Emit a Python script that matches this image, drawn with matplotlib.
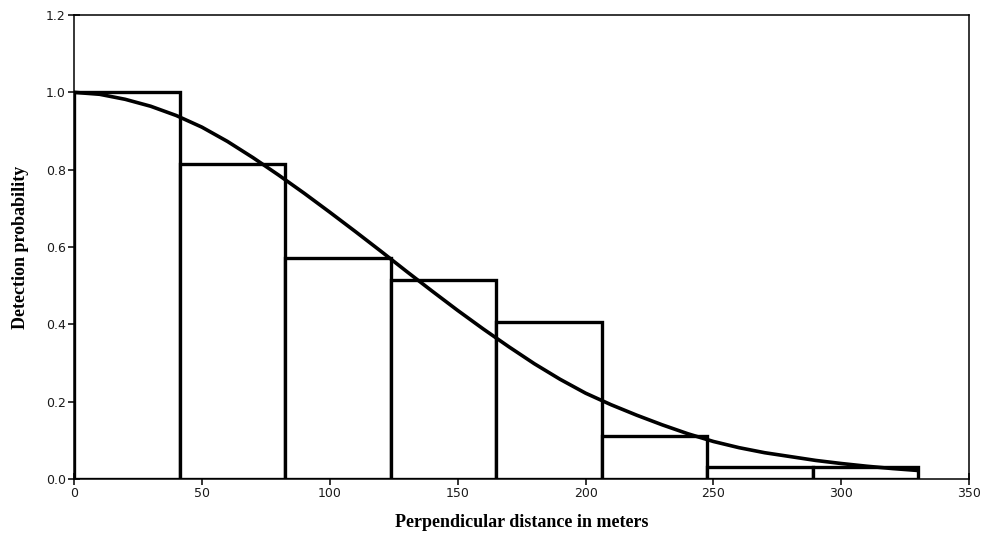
import numpy as np
import matplotlib as mpl
mpl.use('Agg')
import matplotlib.pyplot as plt

mpl.rcParams['axes.linewidth'] = 1.1
mpl.rcParams['xtick.major.width'] = 1.1
mpl.rcParams['ytick.major.width'] = 1.1

# histogram of scaled detection frequencies (8 bins of 41.25 m)
bin_edges = [0, 41.25, 82.5, 123.75, 165, 206.25, 247.5, 288.75, 330]
bar_heights = [1.0, 0.815, 0.571, 0.515, 0.406, 0.111, 0.031, 0.031]

# fitted detection function, every 10 m
curve_x = [0, 10, 20, 30, 40, 50, 60, 70, 80, 90, 100, 110, 120, 130, 140,
           150, 160, 170, 180, 190, 200, 210, 220, 230, 240, 250, 260, 270,
           280, 290, 300, 310, 320, 330]
curve_p = [1.000, 0.995, 0.982, 0.964, 0.940, 0.910, 0.873, 0.831, 0.786,
           0.739, 0.690, 0.640, 0.589, 0.537, 0.486, 0.436, 0.388, 0.342,
           0.298, 0.258, 0.222, 0.192, 0.165, 0.140, 0.117, 0.097, 0.081,
           0.068, 0.058, 0.048, 0.040, 0.033, 0.027, 0.022]

xticks = [0, 50, 100, 150, 200, 250, 300, 350]
yticks = [0.0, 0.2, 0.4, 0.6, 0.8, 1.0, 1.2]

label_font = {'family': 'Liberation Serif', 'weight': 'bold', 'size': 13}

fig = plt.figure(figsize=(9.84, 5.44), dpi=100)
ax = fig.add_axes([0.0752, 0.1195, 0.9098, 0.8529])

edges = np.array(bin_edges)
ax.bar(edges[:-1], bar_heights, width=np.diff(edges), align='edge',
       facecolor='white', edgecolor='black', linewidth=2.4, zorder=2)
ax.plot(curve_x, curve_p, color='black', lw=2.6, zorder=3,
        solid_capstyle='round', solid_joinstyle='round')

ax.set_xlim(0, 350)
ax.set_ylim(0, 1.2)
ax.set_xticks(xticks)
ax.set_yticks(yticks)
ax.set_xticklabels([str(t) for t in xticks])
ax.set_yticklabels(['{:.1f}'.format(t) for t in yticks])
ax.tick_params(direction='inout', length=8, labelsize=9, pad=2)
for lab in ax.get_xticklabels() + ax.get_yticklabels():
    lab.set_family('DejaVu Sans')
    lab.set_color('#1a1a1a')

ax.set_xlabel('Perpendicular distance in meters', fontdict=label_font,
              labelpad=10)
ax.set_ylabel('Detection probability', fontdict=label_font, labelpad=12)

fig.savefig('out.png', dpi=100)
